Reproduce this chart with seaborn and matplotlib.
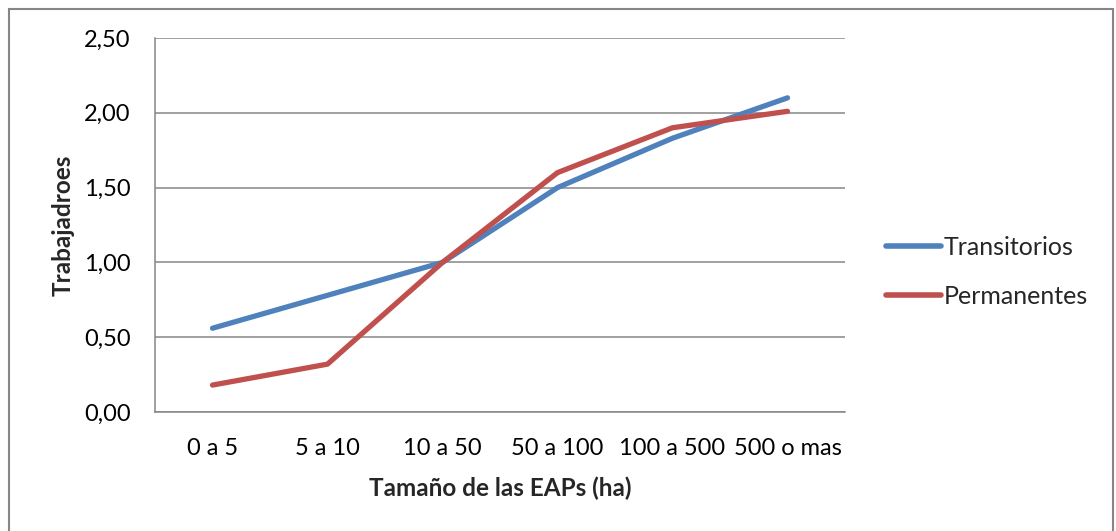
import matplotlib
matplotlib.use("Agg")
import matplotlib.pyplot as plt
from matplotlib.patches import Rectangle
from matplotlib.ticker import FixedLocator, FuncFormatter
import pandas as pd
import seaborn as sns

# Size classes of the farms (EAPs) and workers per farm
categories = ["0 a 5", "5 a 10", "10 a 50", "50 a 100", "100 a 500", "500 o mas"]
transitorios = [0.56, 0.78, 1.00, 1.50, 1.83, 2.10]
permanentes = [0.18, 0.32, 1.00, 1.60, 1.90, 2.01]
series_names = ["Transitorios", "Permanentes"]
y_ticks = [0.0, 0.5, 1.0, 1.5, 2.0, 2.5]

df = pd.DataFrame({
    "pos": list(range(len(categories))) * 2,
    "valor": transitorios + permanentes,
    "serie": [series_names[0]] * len(categories) + [series_names[1]] * len(categories),
})

sns.set_theme(style="white")
plt.rcParams["font.family"] = ["Lato", "DejaVu Sans"]

GRAY = "#868686"
BLUE = "#4F81BD"
RED = "#C0504D"

fig = plt.figure(figsize=(11.16, 5.31), dpi=100)
fig.patch.set_facecolor("white")
ax = fig.add_axes([155 / 1116, 1 - 412 / 531, (845 - 155) / 1116, (412 - 38) / 531])

sns.lineplot(data=df, x="pos", y="valor", hue="serie", palette=[BLUE, RED],
             hue_order=series_names, linewidth=3.8, sort=False, ax=ax,
             solid_capstyle="round")

ax.set_xlim(-0.5, len(categories) - 0.5)
ax.set_ylim(0, 2.5)

# horizontal gridlines
ax.yaxis.set_major_locator(FixedLocator(y_ticks))
ax.yaxis.set_major_formatter(FuncFormatter(lambda v, p: f"{v:.2f}".replace(".", ",")))
ax.grid(axis="y", color=GRAY, linewidth=1.1)
ax.grid(axis="x", visible=False)
ax.set_axisbelow(True)

# category labels centred, tick marks on boundaries
ax.set_xticks(range(len(categories)))
ax.set_xticklabels(categories)
ax.set_xticks([i - 0.5 for i in range(len(categories) + 1)], minor=True)
ax.tick_params(axis="x", which="major", length=0, pad=19, labelsize=17, colors="black")
ax.tick_params(axis="x", which="minor", length=5.5, width=1.1, color=GRAY, direction="out")
ax.tick_params(axis="y", which="major", length=5.5, width=1.1, color=GRAY, direction="out",
               pad=12, labelsize=17, colors="black")

for side in ["top", "right"]:
    ax.spines[side].set_visible(False)
for side in ["left", "bottom"]:
    ax.spines[side].set_color(GRAY)
    ax.spines[side].set_linewidth(1.1)

ax.set_xlabel("Tamaño de las EAPs (ha)", fontsize=17.5, fontweight="bold", labelpad=12)
ax.set_ylabel("Trabajadroes", fontsize=17.5, fontweight="bold", labelpad=7)

leg = ax.legend(loc="center left", bbox_to_anchor=(1.045, 0.374), frameon=False,
                fontsize=18, handlelength=2.2, handletextpad=0.1, labelspacing=1.05,
                borderaxespad=0)
for line in leg.get_lines():
    line.set_linewidth(4)
    line.set_solid_capstyle("round")

# outer frame of the chart area
fig.patches.append(Rectangle((9 / 1116, -0.05), (1113 - 9) / 1116, 1.05 - 8.5 / 531,
                             transform=fig.transFigure, fill=False,
                             edgecolor=GRAY, linewidth=1.5))

fig.savefig("out.png", dpi=100, facecolor="white")
